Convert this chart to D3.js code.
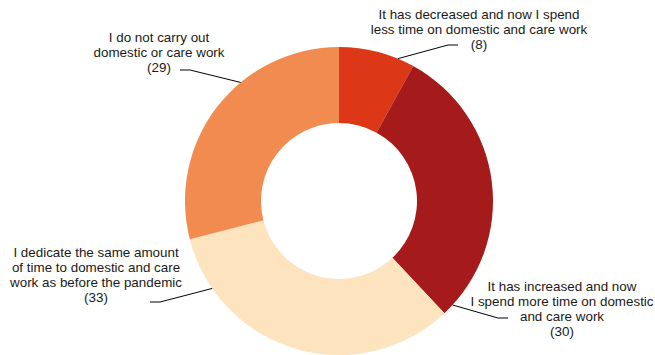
<!DOCTYPE html>
<html>
<head>
<meta charset="utf-8">
<script src="https://cdn.jsdelivr.net/npm/d3@7"></script>
<style>
  body { margin: 0; background: #fff; }
  text { font-family: "Liberation Sans", Arial, Helvetica, sans-serif; fill: #1a1a1a; }
</style>
</head>
<body>
<svg id="chart" width="655" height="355"></svg>
<script>
const categories = ['Decreased', 'Increased', 'Same', 'No domestic work'];
const values = [8, 30, 33, 29];
const labelLines = [
  ['It has decreased and now I spend', 'less time on domestic and care work', '(8)'],
  ['It has increased and now', 'I spend more time on domestic', 'and care work', '(30)'],
  ['I dedicate the same amount', 'of time to domestic and care', 'work as before the pandemic', '(33)'],
  ['I do not carry out', 'domestic or care work', '(29)']
];
const colors = ['#dc3716', '#a51a1a', '#fee4be', '#f28b50'];

// label placement, relative to the centre of the donut
const labelLayout = [
  { t: 0.78, elbow: [[109, -156], [119, -156]], x: 140, y: -182 },
  { t: 0.96, elbow: [[159, 117], [169, 117]], x: 223, y: 90 },
  { t: 0.83, elbow: [[-179, 101], [-189, 101]], x: -243, y: 56 },
  { t: 0.62, elbow: [[-149, -131], [-159, -131]], x: -180, y: -159 }
];

const cx = 339, cy = 201, outer = 154, inner = 78, lineH = 15;

const svg = d3.select('#chart');
const g = svg.append('g').attr('transform', `translate(${cx},${cy})`);

const pie = d3.pie().sort(null).value((d) => d.value);
const arc = d3.arc().innerRadius(inner).outerRadius(outer);

const data = pie(categories.map((c, i) => ({ cat: c, value: values[i], i })));

g.selectAll('path.slice').data(data).join('path')
  .classed('slice', true)
  .attr('d', arc)
  .attr('fill', (d) => colors[d.data.i]);

// leader lines
const line = d3.line();
g.selectAll('path.leader').data(data).join('path')
  .classed('leader', true)
  .attr('fill', 'none')
  .attr('stroke', '#000')
  .attr('stroke-width', 1)
  .attr('d', (d) => {
    const lay = labelLayout[d.data.i];
    const a = d.startAngle + lay.t * (d.endAngle - d.startAngle);
    const start = [outer * Math.sin(a), -outer * Math.cos(a)];
    return line([start, lay.elbow[0], lay.elbow[1]]);
  });

const labels = g.selectAll('text.label').data(data).join('text')
  .classed('label', true)
  .attr('text-anchor', 'middle')
  .style('font-size', '13.4px');

labels.selectAll('tspan').data((d) => labelLines[d.data.i].map((s, k) => ({ s, k, lay: labelLayout[d.data.i] })))
  .join('tspan')
  .attr('x', (d) => d.lay.x)
  .attr('y', (d) => d.lay.y + d.k * lineH)
  .text((d) => d.s);
</script>
</body>
</html>
